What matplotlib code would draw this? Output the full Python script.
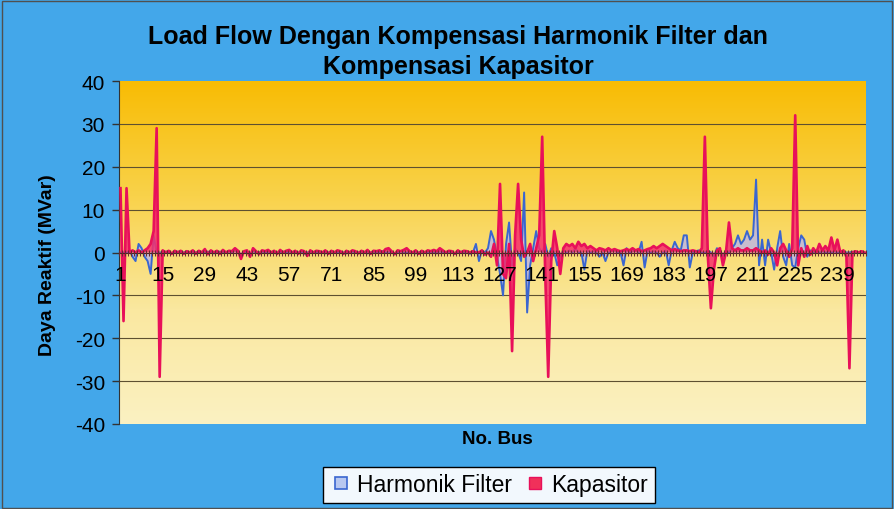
import numpy as np
import matplotlib
matplotlib.use("Agg")
import matplotlib.pyplot as plt
from matplotlib.colors import LinearSegmentedColormap
from matplotlib.lines import Line2D
from matplotlib.patches import Rectangle

plt.rcParams['font.family'] = ['Liberation Sans', 'DejaVu Sans']
plt.rcParams['axes.unicode_minus'] = False

# Daya reaktif tiap bus (MVar), bus 1..248
harmonik_filter = [
    0, 0, 0, 0.5, -1, -2, 2, 1, -1, -2,
    -5, 4, 0, 0, 0, 0.2, 0, -0.2, 0, 0.2,
    0, 0, 0.2, 0, -0.2, 0, 0.2, 0, 0, 0.2,
    0, -0.2, 0, 0.2, 0, 0, 0.3, 0, 0.5, 0,
    -0.5, 0, 0.2, -0.3, 0.3, 0, 0, 0.2, 0, -0.2,
    0, 0.2, 0, 0, 0.2, 0, -0.2, 0, 0.2, 0,
    0, -0.3, 0, 0.2, 0, 0, 0.2, 0, -0.2, 0,
    0.2, 0, 0, 0.2, 0, -0.2, 0, 0.2, 0, 0,
    0.2, 0, -0.2, 0, 0.2, 0, 0, 0.3, 0, 0.2,
    0, -0.2, 0, 0.3, 0, 0, 0.2, 0, -0.2, 0,
    0.2, 0, 0, 0.2, 0, -0.2, 0.3, 0, 0, 0.2,
    0, -0.2, 0, 0.2, 0, 0.3, -0.3, 0, 2, -2,
    0.5, 0, 1, 5, 3, -1, -5, -10, 2, 7,
    -3, 1, 0, -2, 14, -14, -3, 1, 5, 1,
    0, 2, -1, 1, 0, -3, -1, 0.5, 0, 0.5,
    0, 1, 0, 0, -4, 0.5, 0, 0.3, 0, -1,
    0, -2, 0, 0.3, 0.5, 0, 0, -3, 1, 0,
    0.3, 0.5, 0, 2.5, -3.5, 0.5, 0, 0.3, 0, -1,
    0, 0.5, -3, 0.5, 2.5, 1, 0.5, 4, 4, -3.5,
    0, 0.3, 0.5, 0, 0, 0.5, 0, -1, 1, 0.5,
    -1, 0.5, 0, 1, 2, 4, 2, 3, 5, 3,
    4, 17, -3, 3, -3, 3, 0, -4, 1, 5,
    -1, -3, 2, -3, -3.5, 1, 4, 3, -1, 0.5,
    0, 0.5, 0, 0.3, 0, 0.2, 0, 0.3, 0, 0,
    0.2, 0, 0, 0.2, 0, 0, 0.2, 0,
]
kapasitor = [
    15, -16, 15, 0, 0.5, 0, 0.5, 0, 0.5, 1,
    2, 5, 29, -29, 0.5, 0, 0.4, -0.3, 0.4, 0,
    0.4, -0.3, 0.3, 0, 0.5, -0.3, 0.4, 0, 0.8, -0.4,
    0.5, 0, 0.4, -0.3, 0.6, 0, 0.4, 0.3, 1.0, 0.4,
    -1.5, 0.3, 0.5, -1, 1, 0.3, -0.4, 0.5, 0.3, 0.6,
    0, 0.4, -0.3, 0.6, 0, 0.4, 0.6, 0, 0.4, -0.3,
    0.5, 0.3, -0.8, 0.5, 0, 0.4, 0.3, 0, 0.5, -0.3,
    0.4, 0, 0.5, 0.3, -0.3, 0.4, 0, 0.5, 0.3, -0.2,
    0.4, 0, 0.6, -0.3, 0.4, 0.3, 0.5, 0, 0.8, 1,
    0.3, -0.4, 0.5, 0.3, 0.6, 1, 0.3, 0, 0.5, -0.3,
    0.4, 0, 0.5, 0.3, 0.6, 0.3, 1, 0.5, 0, 0.4,
    0.3, -0.3, 0.5, 0, 0.4, 0.3, 0, 0.3, 0, 0,
    0.5, -0.5, 0, -1, 2, -3, 16, -5, -6, 2,
    -23, 4, 16, 3, -1, 0, 2, -2, 1, 4,
    27, -5, -29, -2, 5, 1, -5, 1, 2, 1.5,
    2, 1, 2.5, 1.5, 2, 1, 1.5, 1, 0.5, 1,
    0.8, 0.5, 1, 0.5, 0.8, 0.5, 0.3, 0.5, 0.8, 0.5,
    1, 0.5, 0.8, 0.3, 0.5, 0.8, 1, 1.5, 1, 1.5,
    2, 1.5, 1, 0.5, 0.8, 0.5, 0.3, 0.5, 0.5, 0.3,
    0.5, 0.3, 0, 1, 27, -1, -13, -4, 0.5, 1,
    -3, 0, 7, 1, 0.5, 1, 0.5, 0.5, 1, 0.5,
    0.5, 1, 0.5, 0, 0.5, -0.5, 1, 0, -3, 1,
    2, 0.5, -1, 1, 32, -3, 1, -1, 1.5, -0.5,
    1, 0, 2, 0.5, 1.5, 0.5, 3.5, 0.5, 3, 0,
    0.5, -1, -27, 0, 0.3, 0, 0.3, 0,
]
tick_labels = [1, 15, 29, 43, 57, 71, 85, 99, 113, 127, 141, 155, 169, 183, 197, 211, 225, 239]
y_ticks = [-40, -30, -20, -10, 0, 10, 20, 30, 40]

bus = np.arange(1, len(kapasitor) + 1)
hf = np.array(harmonik_filter)
kp = np.array(kapasitor)

fig = plt.figure(figsize=(8.94, 5.1), dpi=100)
fig.patch.set_facecolor('#43a7ea')
ax = fig.add_axes([119 / 894, 85 / 510, 747 / 894, 343 / 510])

# plot area gradient (orange-yellow top -> pale yellow bottom)
cmap = LinearSegmentedColormap.from_list('bg', ['#f8bc04', '#f9d24a', '#fae8a0', '#fbf1c2'])
grad = np.linspace(0, 1, 256).reshape(-1, 1)
ax.imshow(grad, cmap=cmap, aspect='auto', extent=[0.5, len(bus) + 0.5, -40, 40], zorder=0)

for g in [-30, -20, -10, 10, 20, 30]:
    ax.axhline(g, color='#5e5030', lw=0.8, zorder=1)

# area series
ax.fill_between(bus, hf, 0, facecolor='#b8b4f0', alpha=0.75, lw=0, zorder=2)
ax.plot(bus, hf, color='#3a66d0', lw=1.4, zorder=3)
ax.fill_between(bus, kp, 0, facecolor='#f5306c', alpha=0.85, lw=0, zorder=4)
ax.plot(bus, kp, color='#e8105a', lw=1.9, zorder=5)

ax.set_xlim(0.5, len(bus) + 0.5)
ax.set_ylim(-40, 40)
ax.set_yticks(y_ticks)
ax.tick_params(axis='y', direction='out', length=5, width=1, color='#333333', labelsize=15, pad=5)

ax.spines['bottom'].set_position(('data', 0))
ax.spines['bottom'].set_color('#4a2828')
ax.spines['bottom'].set_zorder(6)
ax.spines['left'].set_color('#333333')
ax.spines['top'].set_visible(False)
ax.spines['right'].set_visible(False)

ax.set_xticks(tick_labels)
ax.set_xticklabels([str(t) for t in tick_labels])
ax.set_xticks(np.arange(0.5, len(bus) + 1, 1), minor=True)
ax.tick_params(axis='x', which='major', length=0, labelsize=15, pad=9)
ax.tick_params(axis='x', which='minor', direction='inout', length=5, width=0.8, color='#6a2a30')
ax.xaxis.set_zorder(7)

fig.text(458 / 894, 1 - 37 / 510, 'Load Flow Dengan Kompensasi Harmonik Filter dan',
         ha='center', va='center', fontsize=18, fontweight='bold')
fig.text(458 / 894, 1 - 67 / 510, 'Kompensasi Kapasitor',
         ha='center', va='center', fontsize=18, fontweight='bold')
fig.text(48 / 894, 1 - 265 / 510, 'Daya Reaktif (MVar)', rotation=90,
         ha='center', va='center', fontsize=14, fontweight='bold')
fig.text(497 / 894, 1 - 440 / 510, 'No. Bus', ha='center', va='center',
         fontsize=13.5, fontweight='bold')

handles = [
    Line2D([], [], marker='s', ls='none', markersize=9, markerfacecolor='#b8c8f0',
           markeredgecolor='#3a66d0', markeredgewidth=1.2),
    Line2D([], [], marker='s', ls='none', markersize=9, markerfacecolor='#f0305a',
           markeredgecolor='#e8105a'),
]
leg = fig.legend(handles, ['Harmonik Filter', 'Kapasitor'], loc='center',
                 bbox_to_anchor=(489 / 894, 24 / 510), ncol=2, fontsize=16.5,
                 frameon=True, fancybox=False, framealpha=1, edgecolor='black',
                 facecolor='#f2f8fd', handletextpad=0.2, columnspacing=0.5,
                 borderpad=0.3, handlelength=1.0)

fig.patches.append(Rectangle((0.002, 0.002), 0.996, 0.994, transform=fig.transFigure,
                             fill=False, edgecolor='#505050', lw=1))

fig.savefig('out.png', dpi=100, facecolor=fig.get_facecolor())
